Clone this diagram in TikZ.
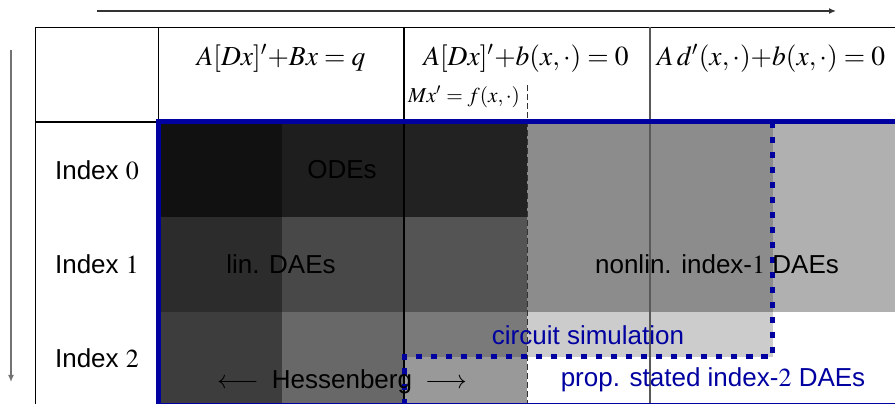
\documentclass[tikz,border=0pt]{standalone}
\usepackage{mathptmx}
\usepackage[no-math]{fontspec}
\setmainfont{Liberation Sans}
\usetikzlibrary{arrows.meta}
\definecolor{dblue}{RGB}{0,0,160}
\definecolor{cA0}{HTML}{111111}
\definecolor{cB0}{HTML}{1E1E1E}
\definecolor{cC0}{HTML}{222222}
\definecolor{cA1}{HTML}{2C2C2C}
\definecolor{cB1}{HTML}{484848}
\definecolor{cC1}{HTML}{545454}
\definecolor{cA2}{HTML}{3D3D3D}
\definecolor{cB2}{HTML}{686868}
\definecolor{cC2}{HTML}{7A7A7A}
\definecolor{cC2b}{HTML}{999999}
\definecolor{cMid}{HTML}{8C8C8C}
\definecolor{cRight}{HTML}{B0B0B0}
\definecolor{cCirc}{HTML}{CCCCCC}
\begin{document}
\begin{tikzpicture}[x=0.4pt,y=-0.4pt,
  font=\fontsize{11}{13}\selectfont,
  gridline/.style={line width=0.6pt,black},
  midline/.style={line width=0.6pt,color=black!65},
  thinsep/.style={line width=0.4pt,color=black!80,dash pattern=on 2.4pt off 1.2pt},
  bluebox/.style={line width=2pt,color=dblue},
  bluedot/.style={line width=2pt,color=dblue,dash pattern=on 2.6pt off 3.4pt},
  axis/.style={line width=0.5pt,-{Latex[length=2.8pt,width=2.4pt]}},
  lbl/.style={inner sep=0pt,anchor=center},
  txt/.style={lbl,font=\fontsize{10.4}{12}\selectfont},
  bluetxt/.style={txt,text=dblue}]
\useasboundingbox (0,0) rectangle (895,404);
\clip (0,0) rectangle (895,404);

% axes
\coordinate (ta) at (97,11);
\coordinate (tb) at (836,11);
\coordinate (la) at (11,50);
\coordinate (lb) at (11,382);
\draw[axis,color=black!80] (ta) -- (tb);
\draw[axis,color=black!55,line width=0.6pt] (la) -- (lb);

% cell fills
\fill[cA0] (159,122) rectangle (282,217);
\fill[cB0] (282,122) rectangle (404,217);
\fill[cC0] (404,122) rectangle (527,217);
\fill[cMid] (527,122) rectangle (773,217);
\fill[cRight] (773,122) rectangle (895,217);
\fill[cA1] (159,217) rectangle (282,312);
\fill[cB1] (282,217) rectangle (404,312);
\fill[cC1] (404,217) rectangle (527,312);
\fill[cMid] (527,217) rectangle (773,312);
\fill[cRight] (773,217) rectangle (895,312);
\fill[cA2] (159,312) rectangle (282,410);
\fill[cB2] (282,312) rectangle (404,410);
\fill[cC2] (404,312) rectangle (527,357);
\fill[cC2b] (404,357) rectangle (527,410);
\fill[cCirc] (527,312) rectangle (773,357);

% table lines
\draw[gridline] (35,27.5) -- (900,27.5);
\draw[gridline] (35.5,27) -- (35.5,410);
\draw[gridline] (35,122) -- (159,122);
\draw[gridline] (158.5,27) -- (158.5,122);
\draw[gridline] (404,27) -- (404,410);
\draw[midline] (650,27) -- (650,410);
\draw[thinsep] (527,85) -- (527,410);

% blue frames
\draw[bluebox] (158.5,122) rectangle (897,406);
\draw[bluedot] (772.5,122) -- (772.5,357) -- (404,357) -- (404,410);

% header texts
\node[lbl] (h1) at (281,58) {$A[Dx]'{+}Bx = q$};
\node[lbl] (h2) at (526,58) {$A[Dx]'{+}b(x,\cdot) = 0$};
\node[lbl] (h2b) at (464,97) {\fontsize{8.5}{10}\selectfont $Mx' = f(x,\cdot)$};
\node[lbl] (h3) at (771,58) {$A\,d'(x,\cdot){+}b(x,\cdot) = 0$};

% row labels
\node[txt] (r0) at (97,170) {Index $0$};
\node[txt] (r1) at (97,264) {Index $1$};
\node[txt] (r2) at (97,358) {Index $2$};

% cell texts
\node[txt] (ode) at (342,170) {ODEs};
\node[txt] (lin) at (281,264) {lin. DAEs};
\node[txt] (nonlin) at (717,264) {nonlin. index-$1$ DAEs};
\node[bluetxt] (circ) at (588,335) {circuit simulation};
\node[bluetxt] (prop) at (713,380) {prop. stated index-$2$ DAEs};
\node[txt] (hess) at (342,382) {$\longleftarrow$\enspace Hessenberg\enspace$\longrightarrow$};
\end{tikzpicture}
\end{document}
